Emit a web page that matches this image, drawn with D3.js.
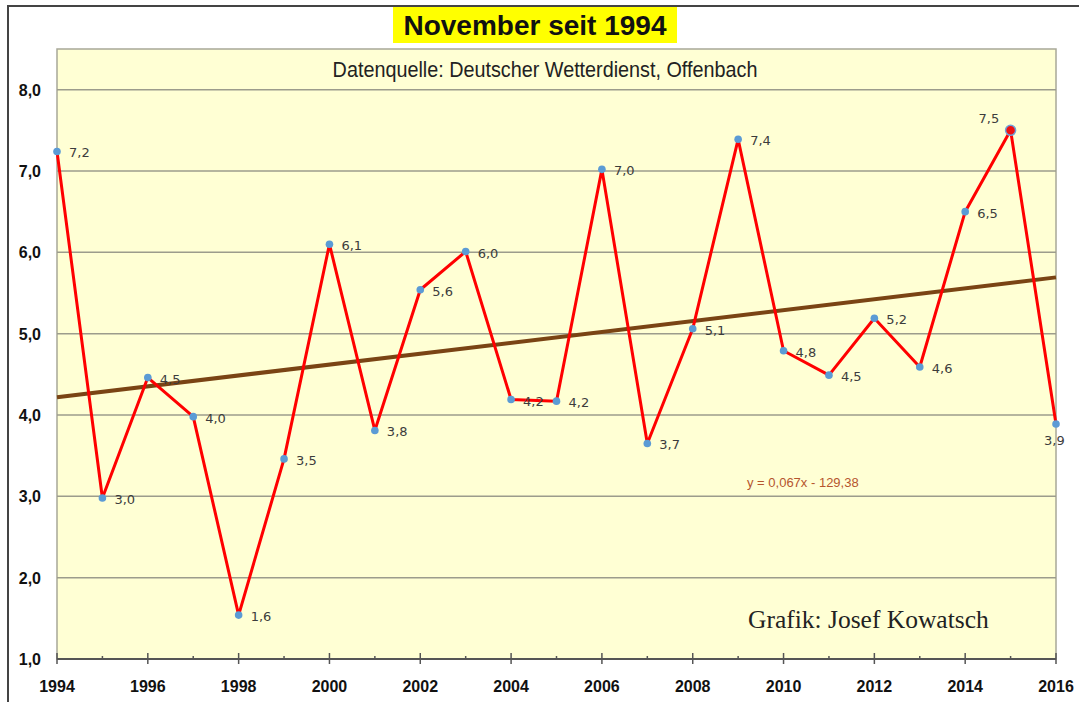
<!DOCTYPE html>
<html lang="de">
<head>
<meta charset="UTF-8">
<title>November seit 1994</title>
<script src="https://d3js.org/d3.v7.min.js"></script>
<style>
  body { margin: 0; background: #fff; }
  svg { display: block; }
</style>
</head>
<body>
<div id="chart"></div>
<script>
// data
const years  = [1994,1995,1996,1997,1998,1999,2000,2001,2002,2003,2004,2005,
                2006,2007,2008,2009,2010,2011,2012,2013,2014,2015,2016];
const temps  = [7.24,2.98,4.46,3.98,1.54,3.46,6.10,3.81,5.54,6.01,4.19,4.17,
                7.02,3.65,5.06,7.39,4.79,4.49,5.19,4.59,6.50,7.50,3.89];
const labels = ["7,2","3,0","4,5","4,0","1,6","3,5","6,1","3,8","5,6","6,0","4,2","4,2",
                "7,0","3,7","5,1","7,4","4,8","4,5","5,2","4,6","6,5","7,5","3,9"];
const yTicks = [1,2,3,4,5,6,7,8];
const xTicksMajor = [1994,1996,1998,2000,2002,2004,2006,2008,2010,2012,2014,2016];
const trendSlope = 0.067, trendIntercept = -129.38;

const W = 1079, H = 702;
const plot = {left: 57, right: 1056, top: 49, bottom: 659};

const svg = d3.select("#chart").append("svg")
    .attr("width", W).attr("height", H);

const x = d3.scaleLinear().domain([1994, 2016]).range([plot.left, plot.right]);
const y = d3.scaleLinear().domain([1, 8.5]).range([plot.bottom, plot.top]);

// outer frame (only top and left visible)
svg.append("path")
    .attr("d", `M8,${H} L8,6 L${W},6`)
    .attr("fill", "none").attr("stroke", "#444").attr("stroke-width", 2);

// plot background
svg.append("rect")
    .attr("x", plot.left).attr("y", plot.top)
    .attr("width", plot.right - plot.left).attr("height", plot.bottom - plot.top)
    .attr("fill", "#ffffd4").attr("stroke", "#a8a898").attr("stroke-width", 1.5);

// gridlines
svg.append("g").selectAll("line")
    .data(yTicks.filter(d => d > 1))
    .join("line")
    .attr("x1", plot.left).attr("x2", plot.right)
    .attr("y1", d => y(d)).attr("y2", d => y(d))
    .attr("stroke", "#9c9c8c").attr("stroke-width", 1.5);

// y axis labels
svg.append("g").selectAll("text")
    .data(yTicks)
    .join("text")
    .attr("x", 41).attr("y", d => y(d) + 6)
    .attr("text-anchor", "end")
    .attr("font-family", "Liberation Sans, Arial, sans-serif")
    .attr("font-weight", "bold").attr("font-size", 16)
    .attr("fill", "#111")
    .text(d => d3.format(".1f")(d).replace(".", ","));

// x axis
const xAxis = svg.append("g").attr("transform", `translate(0,${plot.bottom})`);
xAxis.append("line")
    .attr("x1", plot.left).attr("x2", plot.right)
    .attr("stroke", "#555").attr("stroke-width", 2);
xAxis.selectAll("line.tick")
    .data(years)
    .join("line").attr("class", "tick")
    .attr("x1", d => x(d)).attr("x2", d => x(d))
    .attr("y1", d => d % 2 === 0 ? -6 : -3).attr("y2", d => d % 2 === 0 ? 5 : 0)
    .attr("stroke", "#555").attr("stroke-width", 1.5);
xAxis.selectAll("text")
    .data(xTicksMajor)
    .join("text")
    .attr("x", d => x(d)).attr("y", 33)
    .attr("text-anchor", "middle")
    .attr("font-family", "Liberation Sans, Arial, sans-serif")
    .attr("font-weight", "bold").attr("font-size", 16)
    .attr("fill", "#111")
    .text(d => d);

// trend line
svg.append("line")
    .attr("x1", x(1994)).attr("y1", y(trendSlope * 1994 + trendIntercept))
    .attr("x2", x(2016)).attr("y2", y(trendSlope * 2016 + trendIntercept))
    .attr("stroke", "#7a4414").attr("stroke-width", 4);

// data line
const pts = years.map((yr, i) => ({yr, v: temps[i], lab: labels[i]}));
svg.append("path")
    .datum(pts)
    .attr("d", d3.line().x(d => x(d.yr)).y(d => y(d.v)))
    .attr("fill", "none").attr("stroke", "#ff0000").attr("stroke-width", 3)
    .attr("stroke-linejoin", "round");

svg.append("g").selectAll("circle")
    .data(pts)
    .join("circle")
    .attr("cx", d => x(d.yr)).attr("cy", d => y(d.v))
    .attr("r", d => d.yr === 2015 ? 5 : 3.8)
    .attr("fill", d => d.yr === 2015 ? "#ee1111" : "#5b9bd5")
    .attr("stroke", d => d.yr === 2015 ? "#6fa0d8" : "none")
    .attr("stroke-width", 1.5);

// value labels
const labelOffset = d => {
  if (d.yr === 2015) return [-32, -7];
  if (d.yr === 2016) return [-12, 21];
  return [12, 6];
};
svg.append("g").selectAll("text")
    .data(pts)
    .join("text")
    .attr("x", d => x(d.yr) + labelOffset(d)[0])
    .attr("y", d => y(d.v) + labelOffset(d)[1])
    .attr("font-family", "DejaVu Sans, Verdana, sans-serif")
    .attr("font-size", 13).attr("fill", "#3c3c3c")
    .text(d => d.lab);

// title
const title = svg.append("g");
title.append("rect")
    .attr("x", 393).attr("y", 7).attr("width", 284).attr("height", 36)
    .attr("fill", "#ffff00");
title.append("text")
    .attr("x", 535).attr("y", 35)
    .attr("text-anchor", "middle")
    .attr("font-family", "Liberation Sans, Arial, sans-serif")
    .attr("font-weight", "bold").attr("font-size", 28)
    .attr("fill", "#111")
    .text("November seit 1994");

// subtitle, squeezed to look like a narrow face
svg.append("text")
    .attr("transform", "translate(545,77) scale(0.9,1)")
    .attr("text-anchor", "middle")
    .attr("font-family", "Liberation Sans, Arial, sans-serif")
    .attr("font-size", 22).attr("fill", "#222")
    .text("Datenquelle: Deutscher Wetterdienst, Offenbach");

svg.append("text")
    .attr("x", 747).attr("y", 487)
    .attr("font-family", "Liberation Sans, Arial, sans-serif")
    .attr("font-size", 13).attr("fill", "#b5552e")
    .text("y = 0,067x - 129,38");

svg.append("text")
    .attr("x", 748).attr("y", 628)
    .attr("font-family", "Liberation Serif, Times New Roman, serif")
    .attr("font-size", 25.5).attr("fill", "#222")
    .text("Grafik: Josef Kowatsch");
</script>
</body>
</html>
